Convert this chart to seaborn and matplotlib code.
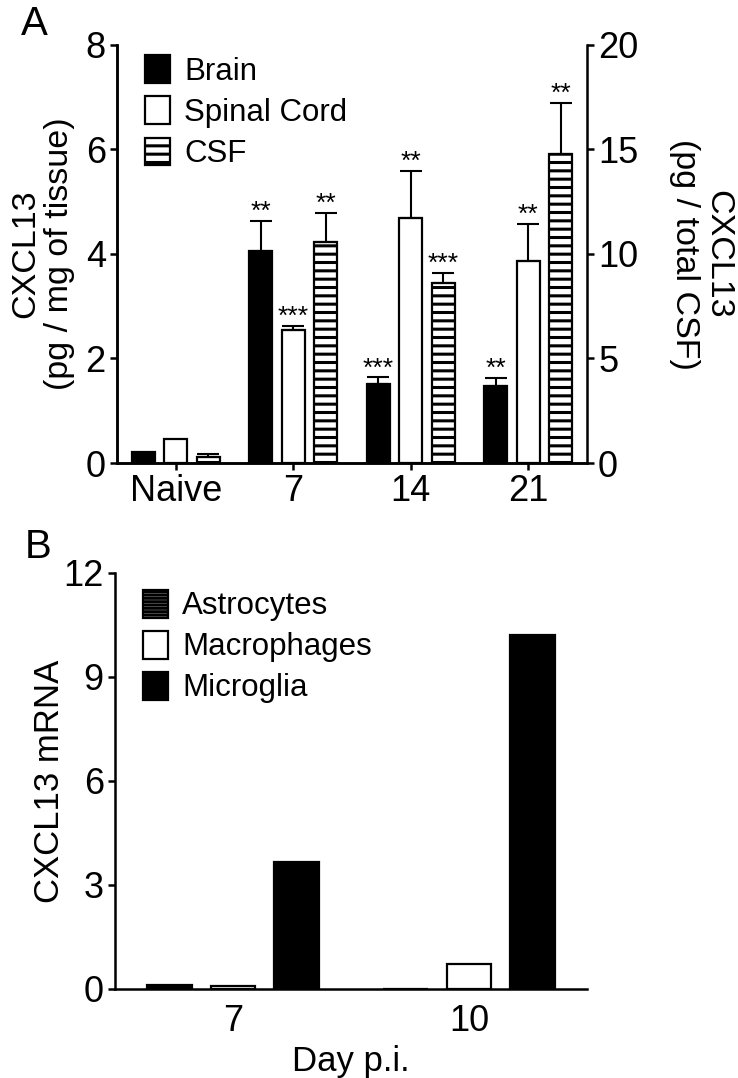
import numpy as np
import pandas as pd
import matplotlib
matplotlib.use("Agg")
import matplotlib.pyplot as plt
import seaborn as sns
from matplotlib.patches import Patch

# ---- panel A data ----
days_a = ["Naive", "7", "14", "21"]
brain = [0.21, 4.05, 1.52, 1.48]
brain_err = [0.0, 0.58, 0.12, 0.15]
spinal = [0.45, 2.55, 4.68, 3.87]
spinal_err = [0.0, 0.07, 0.91, 0.70]
csf = [0.27, 10.55, 8.6, 14.77]          # right axis (pg / total CSF)
csf_err = [0.16, 1.4, 0.48, 2.47]
brain_stars = ["", "**", "***", "**"]
spinal_stars = ["", "***", "**", "**"]
csf_stars = ["", "**", "***", "**"]
tissues = ["Brain", "Spinal Cord", "CSF"]

# ---- panel B data ----
days_b = ["7", "10"]
cells = ["Astrocytes", "Macrophages", "Microglia"]
astro = [0.1, 0.0]
macro = [0.08, 0.72]
micro = [3.65, 10.2]

sns.set_style("ticks")
plt.rcParams["font.family"] = ["Liberation Sans", "DejaVu Sans"]
plt.rcParams["hatch.linewidth"] = 2.2
plt.rcParams["axes.linewidth"] = 1.8
for k in ["text.color", "axes.labelcolor", "xtick.color", "ytick.color",
          "axes.edgecolor"]:
    plt.rcParams[k] = "black"

fig = plt.figure(figsize=(7.38, 10.78), dpi=100)
ax = fig.add_axes([0.1585, 0.5705, 0.6369, 0.3878])
ax2 = ax.twinx()
axb = fig.add_axes([0.1558, 0.0826, 0.6396, 0.3859])

pal_a = {"Brain": "black", "Spinal Cord": "white", "CSF": "white"}

df_left = pd.DataFrame({
    "day": days_a * 2,
    "tissue": ["Brain"] * 4 + ["Spinal Cord"] * 4,
    "value": brain + spinal,
})
df_right = pd.DataFrame({"day": days_a, "tissue": ["CSF"] * 4, "value": csf})

bar_kw = dict(width=0.83, gap=0.29, edgecolor="black", linewidth=1.6,
              errorbar=None, legend=False, saturation=1, dodge=True)
sns.barplot(data=df_left, x="day", y="value", hue="tissue", hue_order=tissues,
            order=days_a, palette=pal_a, ax=ax, **bar_kw)
sns.barplot(data=df_right, x="day", y="value", hue="tissue", hue_order=tissues,
            order=days_a, palette=pal_a, ax=ax2, **bar_kw)
for p in ax2.patches:
    p.set_hatch("--")


def add_err(axis, patches, errs, stars, off):
    for p, e, s in zip(patches, errs, stars):
        xc = p.get_x() + p.get_width() / 2
        h = p.get_height()
        if e > 0:
            axis.errorbar(xc, h, yerr=[[0], [e]], fmt="none", ecolor="black",
                          elinewidth=1.5, capsize=8, capthick=1.5, zorder=1)
        if s:
            axis.text(xc, h + e + off, s, ha="center", va="bottom", fontsize=19)


bars_left = [p for p in ax.patches]
add_err(ax, bars_left[:4], brain_err, brain_stars, -0.06)
add_err(ax, bars_left[4:8], spinal_err, spinal_stars, -0.06)
add_err(ax2, ax2.patches[:4], csf_err, csf_stars, -0.15)

ax.set_xlim(-0.5, 3.5)
ax.set_ylim(0, 8)
ax.set_yticks([0, 2, 4, 6, 8])
ax2.set_ylim(0, 20)
ax2.set_yticks([0, 5, 10, 15, 20])
ax.set_xlabel("")
ax.set_ylabel("CXCL13\n(pg / mg of tissue)", fontsize=24.5, labelpad=8, linespacing=1.1)
ax2.set_ylabel("CXCL13\n(pg / total CSF)", fontsize=24.5, labelpad=22,
               rotation=270, va="bottom", linespacing=1.1)
for a in (ax, ax2):
    a.spines["top"].set_visible(False)
    a.tick_params(labelsize=26, width=1.8, length=5, pad=3)
ax.spines["right"].set_visible(False)

leg_a = [Patch(facecolor="black", edgecolor="black", linewidth=1.6),
         Patch(facecolor="white", edgecolor="black", linewidth=1.6),
         Patch(facecolor="white", edgecolor="black", linewidth=1.6, hatch="--")]
ax2.legend(leg_a, tissues, loc="upper left", bbox_to_anchor=(0.06, 0.975),
           frameon=False, fontsize=22.5, handlelength=0.8, handleheight=1.0,
           labelspacing=0.3, handletextpad=0.45, borderaxespad=0, borderpad=0)

# ---- panel B ----
df_b = pd.DataFrame({
    "day": days_b * 3,
    "cell": [c for c in cells for _ in days_b],
    "value": astro + macro + micro,
})
pal_b = {"Astrocytes": "white", "Macrophages": "white", "Microglia": "black"}
sns.barplot(data=df_b, x="day", y="value", hue="cell", hue_order=cells,
            order=days_b, palette=pal_b, ax=axb, width=0.81, gap=0.3,
            edgecolor="black", linewidth=1.6, errorbar=None, legend=False,
            saturation=1)
for p in axb.patches[:2]:
    p.set_hatch("--")
axb.set_xlim(-0.5, 1.5)
axb.set_ylim(0, 12)
axb.set_yticks([0, 3, 6, 9, 12])
axb.set_xlabel("Day p.i.", fontsize=25, labelpad=4)
axb.set_ylabel("CXCL13 mRNA", fontsize=25, labelpad=-2)
sns.despine(ax=axb)
axb.tick_params(labelsize=26, width=1.8, length=5, pad=3)
axb.tick_params(axis="x", length=0, pad=11)

leg_b = [Patch(facecolor="white", edgecolor="black", linewidth=1.6, hatch="-----"),
         Patch(facecolor="white", edgecolor="black", linewidth=1.6),
         Patch(facecolor="black", edgecolor="black", linewidth=1.6)]
axb.legend(leg_b, cells, loc="upper left", bbox_to_anchor=(0.06, 0.96),
           frameon=False, fontsize=22.5, handlelength=0.8, handleheight=1.0,
           labelspacing=0.3, handletextpad=0.45, borderaxespad=0, borderpad=0)

fig.text(0.028, 0.995, "A", fontsize=29, va="top")
fig.text(0.033, 0.51, "B", fontsize=29, va="top")

fig.savefig("out.png", dpi=100)
